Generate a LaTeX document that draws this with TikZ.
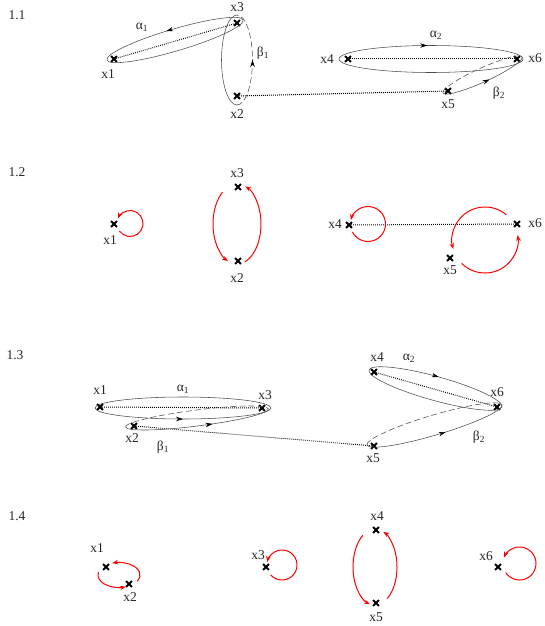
\documentclass[tikz,border=0pt]{standalone}
\usepackage{fontspec}
\setmainfont{Liberation Serif}
\usetikzlibrary{shapes.misc,arrows.meta,decorations.markings}
\begin{document}
\begin{tikzpicture}[x=1pt,y=-1pt,
  mk/.style={cross out,draw,line width=1.9pt,minimum size=4pt,inner sep=0pt},
  lbl/.style={font=\fontsize{13.5}{15}\selectfont,inner sep=0pt,text=black!85},
  dotl/.style={dash pattern=on 0.8pt off 1.2pt,line width=1pt},
  ell/.style={draw=black!70,line width=0.55pt},
  dsh/.style={ell,dash pattern=on 6pt off 3pt},
  midarr/.style={postaction={decorate},decoration={markings,mark=at position #1 with {\arrow[black]{Stealth[length=7pt,width=4.5pt]}}}},
  red arc/.style={draw=red,line width=1pt,-{Stealth[length=6pt,width=4.5pt]}},
]
\useasboundingbox (0,0) rectangle (545,626);

% ---------- 1.1 ----------
\node[lbl] (t11) at (17,15) {1.1};
\node[mk] (a1) at (114,59) {};
\node[mk] (a3) at (237,23) {};
\node[mk] (a2) at (237,96) {};
\node[mk] (a4) at (348,59) {};
\node[mk] (a6) at (517,59) {};
\node[mk] (a5) at (448,91) {};
\node[lbl] (la1) at (108,74) {x1};
\node[lbl] (la3) at (237,7) {x3};
\node[lbl] (la2) at (237,114) {x2};
\node[lbl] (la4) at (327,59) {x4};
\node[lbl] (la6) at (535,58) {x6};
\node[lbl] (la5) at (448,104) {x5};
\node[lbl] (lal1) at (142,27) {α\textsubscript{1}};
\node[lbl] (lbe1) at (263,53) {β\textsubscript{1}};
\node[lbl] (lal2) at (436,35) {α\textsubscript{2}};
\node[lbl] (lbe2) at (499,93) {β\textsubscript{2}};
\draw[dotl] (a1.center) -- (a3.center);
\draw[dotl] (a2.center) -- (a5.center);
\draw[dotl] (a4.center) -- (a6.center);
\begin{scope}[shift={(175,40)},rotate=16.4]
  \draw[ell,midarr=0.27] (0:71 and 11) arc[start angle=0,end angle=-360,x radius=71,y radius=11];
\end{scope}
\draw[ell] (237,60) ++(90:15.5 and 45) arc[start angle=90,end angle=270,x radius=15.5,y radius=45];
\draw[dsh,midarr=0.5] (237,60) ++(90:15.5 and 45) arc[start angle=90,end angle=-90,x radius=15.5,y radius=45];
\draw[ell,midarr=0.24] (431,59) ++(180:92 and 13.5) arc[start angle=180,end angle=540,x radius=92,y radius=13.5];
\begin{scope}[shift={(482.5,75)},rotate=24.5]
  \draw[ell,midarr=0.55] (180:43.5 and 7) arc[start angle=180,end angle=0,x radius=43.5,y radius=7];
  \draw[dsh] (180:43.5 and 7) arc[start angle=180,end angle=360,x radius=43.5,y radius=7];
\end{scope}

% ---------- 1.2 ----------
\node[lbl] (t12) at (17,172) {1.2};
\node[mk] (b1) at (114,224) {};
\node[mk] (b3) at (238,187) {};
\node[mk] (b2) at (238,261) {};
\node[mk] (b4) at (349,225) {};
\node[mk] (b6) at (517,224) {};
\node[mk] (b5) at (450,258) {};
\node[lbl] (lb1) at (110,240) {x1};
\node[lbl] (lb3) at (237,173) {x3};
\node[lbl] (lb2) at (237,278) {x2};
\node[lbl] (lb4) at (335,224) {x4};
\node[lbl] (lb6) at (535,223) {x6};
\node[lbl] (lb5) at (450,270) {x5};
\draw[dotl] (b4.center) -- (b6.center);
\draw[red arc] (130,223.5) ++(145:13) arc[start angle=145,end angle=-157,radius=13];
\draw[red arc] (237,224) ++(233:24 and 40) arc[start angle=233,end angle=112,x radius=24,y radius=40];
\draw[red arc] (237,224) ++(71:24 and 40) arc[start angle=71,end angle=-70,x radius=24,y radius=40];
\draw[red arc] (368,224) ++(153:17.5) arc[start angle=153,end angle=-167,radius=17.5];
\draw[red arc] (485,240) ++(-50:33) arc[start angle=-50,end angle=-196,radius=33];
\draw[red arc] (485,240) ++(135:33) arc[start angle=135,end angle=-8.6,radius=33];

% ---------- 1.3 ----------
\node[lbl] (t13) at (15,355) {1.3};
\node[mk] (c1) at (100,407) {};
\node[mk] (c3) at (262,408) {};
\node[mk] (c2) at (134,426) {};
\node[mk] (c4) at (374,372) {};
\node[mk] (c6) at (497,407) {};
\node[mk] (c5) at (374,446) {};
\node[lbl] (lc1) at (100,390) {x1};
\node[lbl] (lcal1) at (183,389) {α\textsubscript{1}};
\node[lbl] (lc3) at (265,395) {x3};
\node[lbl] (lc2) at (132,438) {x2};
\node[lbl] (lcbe1) at (163,447) {β\textsubscript{1}};
\node[lbl] (lc4) at (377,357) {x4};
\node[lbl] (lcal2) at (409,358) {α\textsubscript{2}};
\node[lbl] (lc6) at (497,392) {x6};
\node[lbl] (lc5) at (373,458) {x5};
\node[lbl] (lcbe2) at (479,437) {β\textsubscript{2}};
\draw[dotl] (c1.center) -- (c3.center);
\draw[dotl] (c4.center) -- (c6.center);
\draw[dotl] (c2.center) -- (c5.center);
\draw[ell,midarr=0.25] (183,408) ++(180:88 and 11) arc[start angle=180,end angle=-180,x radius=88,y radius=11];
\begin{scope}[shift={(197,418)},rotate=7.2]
  \draw[ell,midarr=0.6] (180:72 and 8) arc[start angle=180,end angle=0,x radius=72,y radius=8];
  \draw[dsh] (180:72 and 8) arc[start angle=180,end angle=360,x radius=72,y radius=8];
\end{scope}
\begin{scope}[shift={(435.5,388.5)},rotate=-15.5]
  \draw[ell,midarr=0.25] (180:69 and 12) arc[start angle=180,end angle=540,x radius=69,y radius=12];
\end{scope}
\begin{scope}[shift={(434.5,425)},rotate=16.5]
  \draw[ell,midarr=0.56] (180:70.4 and 10) arc[start angle=180,end angle=0,x radius=70.4,y radius=10];
  \draw[dsh] (180:70.4 and 10) arc[start angle=180,end angle=360,x radius=70.4,y radius=10];
\end{scope}

% ---------- 1.4 ----------
\node[lbl] (t14) at (17,516) {1.4};
\node[mk] (d1) at (106,567) {};
\node[mk] (d2) at (129,584) {};
\node[mk] (d3) at (266,567) {};
\node[mk] (d4) at (376,530) {};
\node[mk] (d5) at (376,603) {};
\node[mk] (d6) at (498,567) {};
\node[lbl] (ld1) at (97,548) {x1};
\node[lbl] (ld2) at (130,597) {x2};
\node[lbl] (ld3) at (258,555) {x3};
\node[lbl] (ld4) at (377,516) {x4};
\node[lbl] (ld5) at (376,617) {x5};
\node[lbl] (ld6) at (486,556) {x6};
\draw[red arc] (119,575) ++(30:21 and 12.5) arc[start angle=30,end angle=-109,x radius=21,y radius=12.5];
\draw[red arc] (119,575) ++(194:21 and 12.5) arc[start angle=194,end angle=71,x radius=21,y radius=12.5];
\draw[red arc] (282,565) ++(139:15) arc[start angle=139,end angle=-169,radius=15];
\draw[red arc] (375,567) ++(237:22 and 38) arc[start angle=237,end angle=103,x radius=22,y radius=38];
\draw[red arc] (375,567) ++(56:22 and 38) arc[start angle=56,end angle=-68,x radius=22,y radius=38];
\draw[red arc] (519.5,563.5) ++(147:16.5) arc[start angle=147,end angle=-159,radius=16.5];
\end{tikzpicture}
\end{document}
